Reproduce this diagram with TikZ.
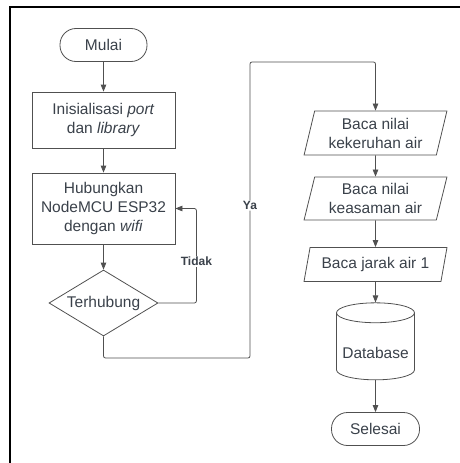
\documentclass[tikz,border=0pt]{standalone}
\usepackage{fontspec}
\setmainfont{Liberation Sans}
\usetikzlibrary{arrows.meta,shapes.geometric,positioning}
\definecolor{txtclr}{RGB}{58,65,74}
\definecolor{lineclr}{RGB}{80,80,80}

\begin{document}
\begin{tikzpicture}[x=1pt,y=-1pt]

\tikzset{
  base/.style={draw=lineclr, line width=0.8pt, text=txtclr,
    font=\fontsize{15.5}{19}\selectfont, align=center, inner sep=0pt},
  terminal/.style={base, rectangle, rounded corners=16pt,
    minimum width=#1, minimum height=33pt},
  process/.style={base, rectangle, minimum width=143pt, minimum height=#1},
  decision/.style={base, diamond, aspect=1.65,
    minimum width=109pt, minimum height=66pt},
  io/.style={base, trapezium, trapezium left angle=#1,
    trapezium right angle=180-#1, trapezium stretches=true,
    minimum width=143pt},
  db/.style={base, cylinder, shape border rotate=90, aspect=0.3,
    minimum width=78pt, minimum height=77pt},
  dbtext/.style={text=txtclr, font=\fontsize{15.5}{19}\selectfont,
    inner sep=0pt},
  flow/.style={draw=lineclr, line width=0.8pt, rounded corners=2pt,
    -{Triangle[length=7pt,width=5.5pt]}},
  lbl/.style={fill=white, text=txtclr, inner sep=1pt,
    font=\bfseries\fontsize{12}{14}\selectfont}
}

\useasboundingbox (0,0) rectangle (459,463);
\draw[line width=1.5pt] (10,475) |- (475,7);

\node[terminal=87pt] (start) at (103.5,45) {Mulai};
\node[process=56pt] (init) at (103.5,120) {Inisialisasi \textit{port}\\dan \textit{library}};
\node[process=71pt] (conn) at (103.5,208.5) {Hubungkan\\NodeMCU ESP32\\dengan \textit{wifi}};
\node[decision] (cek) at (103.5,303) {Terhubung};

\node[io=75, minimum height=44pt] (read1) at (375.5,133) {Baca nilai\\kekeruhan air};
\node[io=75, minimum height=43pt] (read2) at (375.5,198.5) {Baca nilai\\keasaman air};
\node[io=71, minimum height=34pt] (read3) at (375.5,264.5) {Baca jarak air 1};
\node[db, label={[dbtext, yshift=-6pt]center:Database}] (data) at (375.5,346.5) {\phantom{Database}};
\node[terminal=88pt] (stop) at (375.5,429) {Selesai};

\coordinate (ya1) at (250,358);
\coordinate (ya2) at (250,62);

\draw[flow] (start) -- (init);
\draw[flow] (init) -- (conn);
\draw[flow] (conn) -- (cek);
\draw[flow] (cek.east) -- ++(38,0) |- (conn.east) node[lbl, pos=0.22] {Tidak};
\draw[flow] (cek.south) |- (ya1) -- node[lbl, pos=0.515] {Ya} (ya2) -| (read1.north);
\draw[flow] (read1) -- (read2);
\draw[flow] (read2) -- (read3);
\draw[flow] (read3) -- (data);
\draw[flow] (data) -- (stop);

\end{tikzpicture}
\end{document}
